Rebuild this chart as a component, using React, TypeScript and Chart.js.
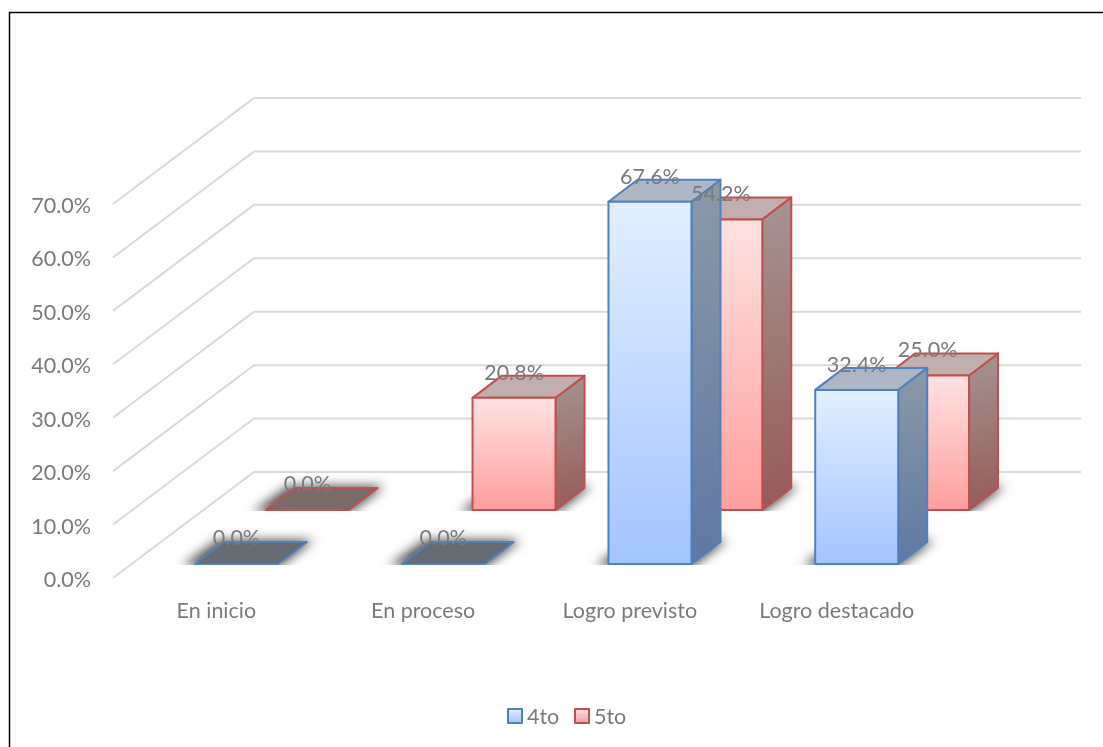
import React, { useEffect, useRef } from "react";
import { Chart, registerables, Plugin } from "chart.js";

Chart.register(...registerables);

const categories = ["En inicio", "En proceso", "Logro previsto", "Logro destacado"];
const values4to = [0, 0, 67.6, 32.4];
const values5to = [0, 20.8, 54.2, 25.0];
const seriesNames = ["4to", "5to"];

const FONT = "Lato, 'Open Sans', sans-serif";
const FONT_SIZE = 21.5;
const TEXT = "#7a7a7a";
const GRID = "#d9d9d9";
const WALL_DX = 141;
const WALL_DY = 106;
const BAR_W = 83;
const BAR_DX = 29;
const BAR_DY = 22;

const looks = [
  {
    xOff: -21.4, yOff: -14, stroke: "#4f81bd",
    front: ["#e3efff", "#a3c4ff"], side: ["#8c99a8", "#5f78a3"], top: "#aeb6c6", flat: "#666c74",
  },
  {
    xOff: 49.4, yOff: -68, stroke: "#c0504d",
    front: ["#ffe2e2", "#ff9e9e"], side: ["#a59492", "#965a58"], top: "#c1aeae", flat: "#7a6b6b",
  },
];

const poly = (ctx: CanvasRenderingContext2D, pts: number[][]) => {
  ctx.beginPath();
  pts.forEach(([x, y], i) => (i ? ctx.lineTo(x, y) : ctx.moveTo(x, y)));
  ctx.closePath();
};

const scene: Plugin = {
  id: "scene",
  beforeDatasetsDraw(chart) {
    const ctx = chart.ctx;
    const xs = chart.scales.x;
    const ys = chart.scales.y;
    ctx.save();

    // frame of the picture
    ctx.strokeStyle = "#000";
    ctx.lineWidth = 1.5;
    ctx.beginPath();
    ctx.moveTo(9.5, 747);
    ctx.lineTo(9.5, 12.5);
    ctx.lineTo(1103, 12.5);
    ctx.stroke();

    // side wall and back wall
    ctx.strokeStyle = GRID;
    ctx.lineWidth = 2;
    ys.ticks.forEach((t) => {
      const y = ys.getPixelForValue(t.value);
      ctx.beginPath();
      ctx.moveTo(xs.left, y);
      ctx.lineTo(xs.left + WALL_DX, y - WALL_DY);
      ctx.lineTo(xs.right + WALL_DX, y - WALL_DY);
      ctx.stroke();
    });

    // back row first, then the front row
    [1, 0].forEach((d) => {
      const look = looks[d];
      const data = chart.data.datasets[d].data as number[];
      data.forEach((v, i) => {
        const l = xs.getPixelForValue(i) + look.xOff;
        const r = l + BAR_W;
        const b = ys.getPixelForValue(0) + look.yOff;
        const t = ys.getPixelForValue(v) + look.yOff - 1;

        // soft ground shadow, cast from a shape drawn off the canvas
        ctx.save();
        ctx.beginPath();
        ctx.rect(l - 40, b - BAR_DY - 30, BAR_W + BAR_DX + 80, BAR_DY + 31);
        ctx.clip();
        const far = 3000;
        ctx.shadowColor = "rgba(0,0,0,0.7)";
        ctx.shadowBlur = 11;
        ctx.shadowOffsetX = far;
        ctx.fillStyle = "#000";
        poly(ctx, [
          [l - 13 - far, b + 2],
          [r + 2 - far, b + 2],
          [r + BAR_DX + 7 - far, b - BAR_DY - 2],
          [l + BAR_DX - 6 - far, b - BAR_DY - 2],
        ]);
        ctx.fill();
        ctx.restore();

        ctx.lineJoin = "round";
        ctx.strokeStyle = look.stroke;
        ctx.lineWidth = 2;

        if (v === 0) {
          ctx.fillStyle = look.flat;
          poly(ctx, [[l, b], [r, b], [r + BAR_DX, b - BAR_DY], [l + BAR_DX, b - BAR_DY]]);
          ctx.fill();
          ctx.stroke();
          return;
        }

        const sg = ctx.createLinearGradient(r, t - BAR_DY, r + BAR_DX, b);
        sg.addColorStop(0, look.side[0]);
        sg.addColorStop(1, look.side[1]);
        ctx.fillStyle = sg;
        poly(ctx, [[r, t], [r + BAR_DX, t - BAR_DY], [r + BAR_DX, b - BAR_DY], [r, b]]);
        ctx.fill();
        ctx.stroke();

        ctx.fillStyle = look.top;
        poly(ctx, [[l, t], [l + BAR_DX, t - BAR_DY], [r + BAR_DX, t - BAR_DY], [r, t]]);
        ctx.fill();
        ctx.stroke();

        const fg = ctx.createLinearGradient(0, t, 0, b);
        fg.addColorStop(0, look.front[0]);
        fg.addColorStop(1, look.front[1]);
        ctx.fillStyle = fg;
        poly(ctx, [[l, t], [r, t], [r, b], [l, b]]);
        ctx.fill();
        ctx.stroke();
      });
    });

    // value labels above everything
    ctx.font = `${FONT_SIZE}px ${FONT}`;
    ctx.fillStyle = TEXT;
    ctx.textAlign = "center";
    ctx.textBaseline = "middle";
    looks.forEach((look, d) => {
      (chart.data.datasets[d].data as number[]).forEach((v, i) => {
        const c = xs.getPixelForValue(i) + look.xOff + BAR_W / 2;
        const t = ys.getPixelForValue(v) + look.yOff;
        ctx.fillText(`${v.toFixed(1)}%`, c, t - 26);
      });
    });

    // legend
    let lx = 507;
    const ly = 716;
    seriesNames.forEach((name, d) => {
      const look = looks[d];
      const g = ctx.createLinearGradient(0, ly - 7, 0, ly + 7);
      g.addColorStop(0, look.front[0]);
      g.addColorStop(1, look.front[1]);
      ctx.fillStyle = g;
      ctx.strokeStyle = look.stroke;
      ctx.lineWidth = 2;
      ctx.fillRect(lx + 1, ly - 7, 14, 14);
      ctx.strokeRect(lx + 1, ly - 7, 14, 14);
      ctx.fillStyle = TEXT;
      ctx.textAlign = "left";
      ctx.fillText(name, lx + 20, ly + 1);
      lx += 67;
    });

    ctx.restore();
  },
};

export default function App() {
  const ref = useRef<HTMLCanvasElement>(null);

  useEffect(() => {
    const chart = new Chart(ref.current!, {
      type: "bar",
      data: {
        labels: categories,
        datasets: [
          { label: seriesNames[0], data: values4to, backgroundColor: "transparent", borderWidth: 0 },
          { label: seriesNames[1], data: values5to, backgroundColor: "transparent", borderWidth: 0 },
        ],
      },
      options: {
        responsive: false,
        animation: false,
        devicePixelRatio: 1,
        layout: { padding: { top: 204, right: 163, bottom: 0, left: 0 } },
        plugins: {
          legend: { display: false },
          title: { display: false },
          tooltip: { enabled: false },
        },
        scales: {
          x: {
            grid: { display: false },
            border: { display: false },
            ticks: { color: TEXT, font: { family: FONT, size: FONT_SIZE }, padding: 12, maxRotation: 0, autoSkip: false },
            afterFit: (s: any) => { s.height = 169; },
          },
          y: {
            min: 0,
            max: 70,
            grid: { display: false },
            border: { display: false },
            ticks: {
              stepSize: 10,
              color: TEXT,
              font: { family: FONT, size: FONT_SIZE },
              padding: 14,
              labelOffset: 2,
              callback: (v: any) => `${Number(v).toFixed(1)}%`,
            },
            afterFit: (s: any) => { s.width = 113; },
          },
        },
      },
      plugins: [scene],
    });
    return () => chart.destroy();
  }, []);

  return (
    <div style={{ position: "absolute", left: 0, top: 0, width: 1103, height: 747, background: "#fff" }}>
      <canvas ref={ref} width={1103} height={747} style={{ display: "block" }} />
    </div>
  );
}
